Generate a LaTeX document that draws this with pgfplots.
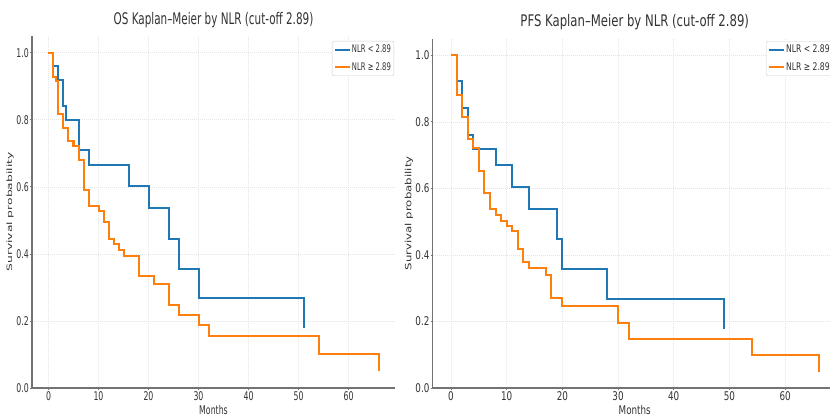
\documentclass[border=0pt]{standalone}
\usepackage{pgfplots}
\pgfplotsset{compat=1.18}
\usepackage{fontspec}
\setmainfont{DejaVu Sans}
\newfontfamily\fa[FakeStretch=0.65]{DejaVu Sans}
\newfontfamily\fb[FakeStretch=0.73]{DejaVu Sans}
\definecolor{tblue}{HTML}{1F77B4}
\definecolor{torange}{HTML}{FF7F0E}
\pgfplotsset{
  kmstyle/.style={
    scale only axis,
    xmin=-3.3, xmax=69.3, ymin=0, ymax=1.05,
    axis x line*=bottom, axis y line*=left,
    axis line style={-, black!55, line width=1.2pt},
    xtick={0,10,20,30,40,50,60},
    xticklabels={0,10,20,30,40,50,60},
    ytick={0,0.2,0.4,0.6,0.8,1.0},
    yticklabels={0.0,0.2,0.4,0.6,0.8,1.0},
    tick align=outside, major tick length=2pt,
    tick style={black!55, line width=0.8pt},
    xmajorgrids, ymajorgrids,
    grid style={black!10, dash pattern=on 1pt off 1pt, line width=0.7pt},
    ticklabel style={text=black!80, inner sep=1pt},
    /pgf/number format/assume math mode=true,
    legend cell align=left,
    legend image code/.code={\draw[#1, line width=1.8pt] (0pt,0pt) -- (15pt,0pt);},
    every axis plot/.append style={const plot, line width=2pt, mark=none, line join=miter},
  }
}
\begin{document}
\begin{tikzpicture}
\path[use as bounding box] (0,0) rectangle (830pt,417pt);
\clip (0,0) rectangle (830pt,417pt);
% ---------------- OS ----------------
\begin{axis}[kmstyle,
  at={(32pt,29pt)}, anchor=south west,
  width=363pt, height=352pt,
  ticklabel style={font=\fontsize{12}{14}\fa},
  title={OS Kaplan–Meier by NLR (cut-off 2.89)},
  title style={at={(rel axis cs:0.5,1)}, anchor=center, yshift=10.2pt, font=\fontsize{16}{18}\fa, text=black!80},
  xlabel={Months},
  xlabel style={at={(rel axis cs:0.5,0)}, anchor=base, yshift=-26.8pt, font=\fontsize{12}{14}\fa, text=black!80},
  ylabel={Survival probability},
  ylabel style={at={(rel axis cs:-0.0606,0.5)}, anchor=center, font=\fontsize{12.3}{14}\selectfont, text=black!80, yscale=0.6},
  legend style={at={(rel axis cs:0.8264,0.9858)}, anchor=north west, draw=black!20, rounded corners=2pt, fill=white,
    font=\fontsize{10.5}{12}\fa, text=black!80, inner xsep=2pt, inner ysep=3pt, row sep=6pt, nodes={inner sep=1pt}},
]
\addplot[tblue] coordinates {(0,1) (1,0.96) (2,0.92) (3,0.84) (3.5,0.80) (6,0.711) (8,0.664) (16,0.602) (20,0.537) (24,0.445) (26,0.356) (30,0.267) (51,0.178)};
\addlegendentry{NLR < 2.89}
\addplot[torange] coordinates {(0,1) (1,0.928) (1.5,0.915) (2,0.816) (3,0.776) (4,0.736) (5,0.722) (6,0.681) (7,0.590) (8,0.542) (10,0.527) (11,0.494) (12,0.445) (13,0.430) (14,0.411) (15,0.393) (18,0.333) (21,0.311) (24,0.249) (26,0.217) (30,0.187) (32,0.156) (54,0.102) (66,0.050)};
\addlegendentry{NLR ≥ 2.89}
\end{axis}
% ---------------- PFS ----------------
\begin{axis}[kmstyle,
  at={(432.6pt,29pt)}, anchor=south west,
  width=404.3pt, height=349.3pt,
  ticklabel style={font=\fontsize{12}{14}\fb},
  title={PFS Kaplan–Meier by NLR (cut-off 2.89)},
  title style={at={(rel axis cs:0.5,1)}, anchor=center, yshift=10.9pt, font=\fontsize{16}{18}\fb, text=black!80},
  xlabel={Months},
  xlabel style={at={(rel axis cs:0.5,0)}, anchor=base, yshift=-26.8pt, font=\fontsize{12}{14}\fb, text=black!80},
  ylabel={Survival probability},
  ylabel style={at={(rel axis cs:-0.0584,0.5)}, anchor=center, font=\fontsize{11.8}{13}\selectfont, text=black!80, yscale=0.73},
  legend style={at={(rel axis cs:0.8247,0.9934)}, anchor=north west, draw=black!20, rounded corners=2pt, fill=white,
    font=\fontsize{10.5}{12}\fb, text=black!80, inner xsep=2pt, inner ysep=3pt, row sep=6pt, nodes={inner sep=1pt}},
]
\addplot[tblue] coordinates {(0,1) (1,0.923) (2,0.843) (3,0.761) (4,0.719) (8,0.671) (11,0.603) (14,0.538) (19,0.447) (20,0.358) (28,0.2675) (49,0.177)};
\addlegendentry{NLR < 2.89}
\addplot[torange] coordinates {(0,1) (1,0.880) (2,0.8156) (3,0.748) (4,0.721) (5,0.653) (6,0.585) (7,0.537) (8,0.520) (9,0.503) (10,0.488) (11,0.471) (12,0.419) (13,0.380) (14,0.362) (17,0.339) (18,0.2715) (20,0.246) (30,0.196) (32,0.146) (54,0.098) (66,0.048)};
\addlegendentry{NLR ≥ 2.89}
\end{axis}
\end{tikzpicture}
\end{document}
